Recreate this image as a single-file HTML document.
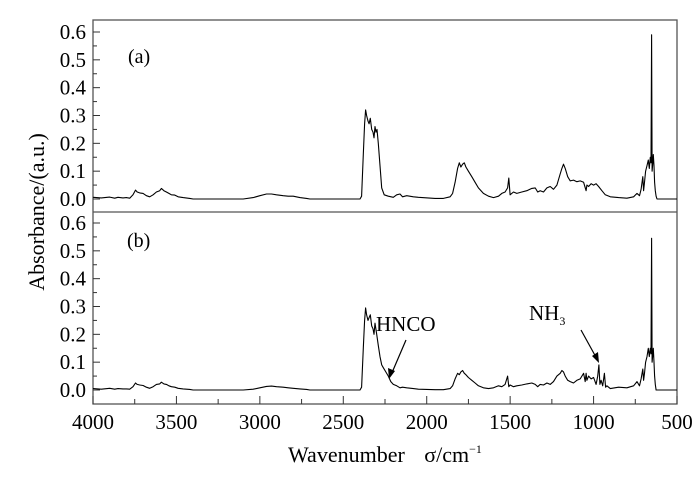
<!DOCTYPE html>
<html><head><meta charset="utf-8"><style>
body{margin:0;background:#fff}
svg, svg text{font-family:"Liberation Serif","Times New Roman","DejaVu Serif",serif}
</style></head><body>
<svg id="chart" width="700" height="472" viewBox="0 0 700 472" xmlns="http://www.w3.org/2000/svg" font-family="Liberation Serif, DejaVu Serif, serif">
<g id="axes"></g>
<g id="series"></g>
<text x="128" y="63" font-size="20">(a)</text>
<text x="127" y="247" font-size="20">(b)</text>
<text transform="translate(44,212) rotate(-90)" text-anchor="middle" font-size="22">Absorbance/(a.u.)</text>
<text x="385" y="462" text-anchor="middle" font-size="22">Wavenumber <tspan dx="14">σ</tspan>/cm<tspan font-size="12" dy="-9">−1</tspan></text>
<text x="376" y="331" font-size="21">HNCO</text>
<line x1="406" y1="340" x2="391" y2="375" stroke="#000" stroke-width="1.2"/>
<polygon points="389,379 388,368 395,371" fill="#000"/>
<text x="529" y="320" font-size="21">NH<tspan font-size="12" dy="5">3</tspan></text>
<line x1="581" y1="330" x2="597" y2="359" stroke="#000" stroke-width="1.2"/>
<polygon points="599,363 592,356 598,352" fill="#000"/>
</svg>
<script>
const xTicks=[4000,3500,3000,2500,2000,1500,1000,500];
const yTicks=[0.0,0.1,0.2,0.3,0.4,0.5,0.6];
const wnA=[4000,3950,3900,3870,3850,3820,3800,3780,3760,3745,3735,3720,3700,3680,3660,3640,3620,3600,3590,3575,3560,3545,3530,3510,3490,3460,3420,3400,3100,3040,3000,2960,2930,2900,2860,2830,2800,2760,2720,2700,2400,2390,2380,2372,2366,2360,2352,2345,2338,2330,2322,2316,2310,2304,2298,2290,2280,2270,2255,2230,2200,2180,2160,2145,2120,2080,2050,1950,1900,1860,1845,1830,1815,1805,1795,1785,1775,1765,1750,1730,1710,1690,1660,1630,1600,1570,1550,1530,1515,1508,1500,1480,1460,1430,1400,1370,1350,1335,1320,1300,1280,1260,1240,1220,1200,1190,1180,1170,1155,1140,1120,1100,1080,1060,1045,1040,1030,1015,1000,985,970,950,930,900,850,800,760,740,725,715,705,700,695,688,680,672,666,660,656,652,649,646,642,638,634,630,625,620,600,500];
const absA=[0.006,0.004,0.007,0.003,0.006,0.004,0.005,0.003,0.015,0.032,0.025,0.022,0.02,0.012,0.008,0.015,0.025,0.03,0.038,0.03,0.025,0.02,0.015,0.014,0.008,0.005,0.002,0.0,0.0,0.005,0.012,0.018,0.018,0.015,0.012,0.01,0.01,0.005,0.002,0.0,0.0,0.01,0.16,0.27,0.32,0.3,0.28,0.27,0.29,0.25,0.24,0.22,0.26,0.24,0.25,0.2,0.12,0.04,0.015,0.01,0.006,0.015,0.018,0.008,0.012,0.008,0.006,0.002,0.002,0.008,0.02,0.06,0.11,0.13,0.115,0.125,0.13,0.115,0.1,0.08,0.06,0.04,0.02,0.01,0.005,0.01,0.02,0.025,0.04,0.075,0.015,0.025,0.02,0.025,0.03,0.038,0.04,0.025,0.03,0.025,0.04,0.045,0.035,0.05,0.09,0.11,0.125,0.11,0.08,0.065,0.068,0.062,0.065,0.06,0.03,0.05,0.045,0.055,0.05,0.055,0.045,0.03,0.015,0.008,0.005,0.003,0.008,0.02,0.012,0.035,0.08,0.03,0.06,0.1,0.12,0.14,0.11,0.15,0.13,0.59,0.1,0.12,0.16,0.12,0.06,0.03,0.01,0.0,0.0,0.0];
const wnB=[4000,3950,3900,3870,3850,3820,3800,3780,3760,3745,3735,3720,3700,3680,3660,3640,3620,3600,3590,3575,3560,3545,3530,3510,3490,3460,3420,3400,3100,3040,3000,2960,2930,2900,2860,2830,2800,2760,2720,2700,2400,2390,2380,2372,2366,2360,2352,2345,2338,2330,2322,2316,2310,2300,2290,2280,2270,2260,2245,2230,2215,2200,2180,2160,2145,2120,2080,2050,1950,1900,1860,1845,1830,1815,1805,1795,1785,1775,1765,1750,1730,1710,1690,1660,1630,1600,1570,1550,1530,1515,1508,1500,1480,1460,1430,1400,1370,1350,1335,1320,1300,1280,1260,1240,1220,1200,1190,1180,1170,1155,1140,1120,1100,1080,1060,1050,1045,1040,1030,1015,1000,985,975,968,962,955,945,935,928,920,900,850,800,760,740,725,715,705,700,695,688,680,672,666,660,656,652,649,646,642,638,634,630,625,620,600,500];
const absB=[0.005,0.003,0.006,0.003,0.005,0.004,0.004,0.003,0.012,0.025,0.02,0.018,0.016,0.01,0.006,0.012,0.02,0.022,0.028,0.022,0.02,0.015,0.012,0.01,0.006,0.004,0.002,0.0,0.0,0.003,0.008,0.013,0.014,0.012,0.01,0.008,0.006,0.004,0.002,0.0,0.0,0.01,0.15,0.25,0.295,0.27,0.25,0.26,0.27,0.23,0.22,0.2,0.24,0.2,0.16,0.12,0.09,0.08,0.065,0.05,0.03,0.02,0.015,0.008,0.01,0.008,0.005,0.003,0.001,0.001,0.005,0.015,0.04,0.06,0.055,0.065,0.07,0.06,0.055,0.045,0.035,0.025,0.015,0.008,0.005,0.008,0.015,0.012,0.02,0.05,0.012,0.018,0.012,0.015,0.018,0.022,0.025,0.02,0.012,0.02,0.018,0.025,0.02,0.03,0.05,0.06,0.07,0.065,0.05,0.035,0.03,0.025,0.035,0.04,0.06,0.03,0.06,0.035,0.05,0.04,0.045,0.02,0.05,0.09,0.02,0.035,0.015,0.06,0.01,0.015,0.005,0.01,0.008,0.015,0.03,0.015,0.04,0.075,0.035,0.06,0.1,0.12,0.15,0.12,0.15,0.13,0.545,0.1,0.12,0.15,0.1,0.05,0.02,0.0,0.0,0.0,0.0];
const NS='http://www.w3.org/2000/svg';
const L=93,R=677;
const xS=w=>L+(4000-w)/3500*(R-L);
const panels=[{name:'a',y0:199,wn:wnA,ab:absA},{name:'b',y0:390,wn:wnB,ab:absB}];
const pxPer=(199-32)/0.6;
const axes=document.getElementById('axes'),ser=document.getElementById('series');
function mk(tag,attrs,parent){const e=document.createElementNS(NS,tag);for(const k in attrs)e.setAttribute(k,attrs[k]);parent.appendChild(e);return e;}
const fr=mk('rect',{x:L,y:20,width:R-L,height:384,fill:'none',stroke:'#555','stroke-width':1.3},axes);


const dv=mk('line',{x1:L,x2:R,y1:212,y2:212,stroke:'#555','stroke-width':1.3},axes);


panels.forEach(p=>{
  const yS=v=>p.y0-v*pxPer;
  for(let i=0;i<=12;i++){const v=i*0.05;const y=yS(v);const major=i%2==0;
    const t=mk('line',{x1:L,x2:L+(major?7:4),y1:y,y2:y,stroke:'#333','stroke-width':1},axes);
    
    }
  yTicks.forEach(v=>{const t=mk('text',{x:L-7,y:yS(v)+7,'text-anchor':'end','font-size':21,'font-family':'Liberation Serif, DejaVu Serif, serif'},axes);t.textContent=v.toFixed(1);
    
    });
  let d='';p.wn.forEach((w,i)=>{d+=(i?'L':'M')+xS(w).toFixed(1)+','+yS(p.ab[i]).toFixed(1);});
  const pa=mk('path',{d:d,fill:'none',stroke:'#000','stroke-width':1.1,'stroke-linejoin':'round'},ser);
  
  
});
for(let w=4000;w>=500;w-=250){const x=xS(w);const major=w%500==0;
  const t=mk('line',{x1:x,x2:x,y1:404,y2:404-(major?8:5),stroke:'#333','stroke-width':1},axes);
  
  }
xTicks.forEach(w=>{const t=mk('text',{x:xS(w),y:429,'text-anchor':'middle','font-size':21,'font-family':'Liberation Serif, DejaVu Serif, serif'},axes);t.textContent=w;
  
  });
</script>
</body></html>
